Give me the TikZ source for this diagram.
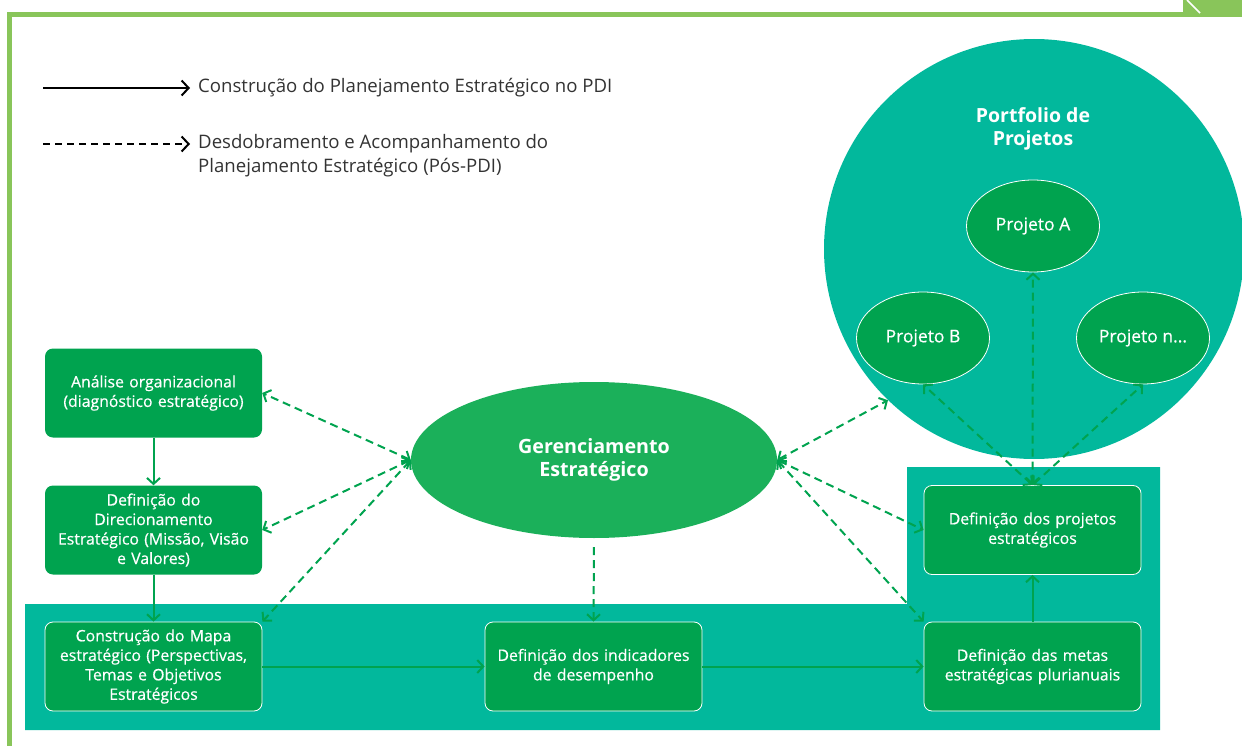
\documentclass[tikz,border=0pt]{standalone}
\usepackage{fontspec}
\setmainfont{Open Sans}
\newfontfamily\semib{Open Sans}[FakeBold=0.5]
\usetikzlibrary{shapes.geometric,arrows.meta}
\definecolor{boxgreen}{RGB}{0,163,79}
\definecolor{ellgreen}{RGB}{27,176,90}
\definecolor{teal}{RGB}{2,184,156}
\definecolor{framegreen}{RGB}{137,197,90}
\definecolor{legendtext}{RGB}{51,51,51}
\tikzset{
  stepbox/.style={rectangle, rounded corners=8pt, fill=boxgreen, text=white,
    minimum width=217pt, minimum height=89pt, text width=212pt, align=center,
    inner sep=0pt, font=\semib\fontsize{15.8}{19.5}\selectfont},
  wstepbox/.style={stepbox, draw=white, line width=0.8pt},
  proj/.style={ellipse, fill=boxgreen, draw=white, line width=0.8pt,
    minimum width=133pt, minimum height=92pt, inner sep=0pt, text=white,
    font=\semib\fontsize{17.5}{20}\selectfont},
  flow/.style={draw=boxgreen, line width=2pt, -{Straight Barb[length=6pt,width=13pt]}},
  dflow/.style={draw=boxgreen, line width=2pt, dash pattern=on 8pt off 5pt,
    {Straight Barb[length=6pt,width=13pt]}-{Straight Barb[length=6pt,width=13pt]}},
  dflowone/.style={draw=boxgreen, line width=2pt, dash pattern=on 8pt off 5pt,
    -{Straight Barb[length=6pt,width=13pt]}},
  legline/.style={draw=black, line width=2pt, -{Straight Barb[length=7pt,width=15pt]}},
  legtext/.style={anchor=west, align=left, text=legendtext, inner sep=0pt,
    font=\fontsize{18.6}{24}\selectfont},
}
\begin{document}
\begin{tikzpicture}[x=1pt,y=-1pt]
\useasboundingbox (0,0) rectangle (1242,746);
% frame
\fill[framegreen] (7,12) rectangle (1242,17);
\fill[framegreen] (7,12) rectangle (12,746);
\fill[framegreen] (1183,0) rectangle (1242,14);
\draw[white, line width=1.5pt] (1187,0) -- (1200,13);
% teal areas
\fill[teal] (25,604) -- (907,604) -- (907,467) -- (1160,467) -- (1160,730) -- (25,730) -- cycle;
% big circle
\node[circle, fill=teal, minimum size=420pt, inner sep=0pt] (port) at (1034,249) {};
\node[text=white, align=center, font=\bfseries\fontsize{19.5}{23}\selectfont] (porttitle) at (1033,129) {Portfolio de\\Projetos};
% legend
\coordinate (la1) at (43,88);
\coordinate (lb1) at (190,88);
\coordinate (la2) at (43,144);
\coordinate (lb2) at (190,144);
\draw[legline] (la1) -- (lb1);
\draw[legline, dash pattern=on 7pt off 5pt] (la2) -- (lb2);
\node[legtext] (lt1) at (198,88) {Construção do Planejamento Estratégico no PDI};
\node[legtext] (lt2) at (198,156) {Desdobramento e Acompanhamento do\\Planejamento Estratégico (Pós-PDI)};
% central ellipse
\node[ellipse, fill=ellgreen, minimum width=366pt, minimum height=156pt, inner sep=0pt,
  text=white, align=center, font=\bfseries\fontsize{19.7}{23}\selectfont] (ger) at (594,460)
  {Gerenciamento\\Estratégico};
% boxes
\node[stepbox] (b1) at (153.5,393) {Análise organizacional\\(diagnóstico estratégico)};
\node[stepbox] (b2) at (153.5,530) {Definição do\\Direcionamento\\Estratégico (Missão, Visão\\e Valores)};
\node[wstepbox] (b3) at (153.5,666.5) {Construção do Mapa\\estratégico (Perspectivas,\\Temas e Objetivos\\Estratégicos};
\node[wstepbox] (b4) at (593.5,666.5) {Definição dos indicadores\\de desempenho};
\node[wstepbox] (b5) at (1032.5,666.5) {Definição das metas\\estratégicas plurianuais};
\node[wstepbox] (b6) at (1032.5,530) {Definição dos projetos\\estratégicos};
% project ellipses
\node[proj] (pa) at (1033,226) {Projeto A};
\node[proj] (pb) at (923,338) {Projeto B};
\node[proj] (pn) at (1143,338) {Projeto n...};
% solid flow
\draw[flow] (b1) -- (b2);
\draw[flow] (b2) -- (b3);
\draw[flow] (b3) -- (b4);
\draw[flow] (b4) -- (b5);
\draw[flow] (b5) -- (b6);
% dashed connectors
\draw[dflow] (ger.west) -- (b1.east);
\draw[dflow] (ger.west) -- (b2.east);
\draw[dflow] (ger.west) -- (b3.north east);
\draw[dflowone, shorten <=9pt] (ger.south) -- (b4.north);
\draw[dflow] (ger.east) -- (port.226);
\draw[dflow] (ger.east) -- (b6.west);
\draw[dflow] (ger.east) -- (b5.north west);
\draw[dflow] (b6.north) -- (pa.south);
\draw[dflow] (b6.north) -- (pb.south);
\draw[dflow] (b6.north) -- (pn.south);
\end{tikzpicture}
\end{document}
